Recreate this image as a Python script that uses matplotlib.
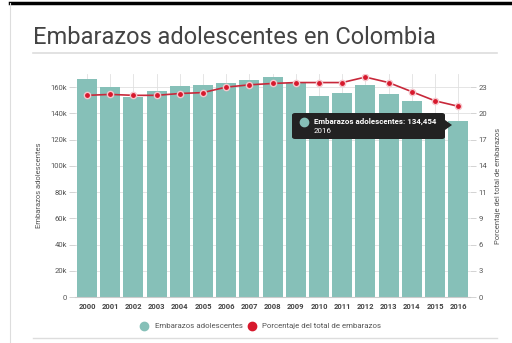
import matplotlib.pyplot as plt
from matplotlib.patches import FancyBboxPatch, Polygon
from matplotlib.lines import Line2D

years = ['2000', '2001', '2002', '2003', '2004', '2005', '2006', '2007', '2008',
         '2009', '2010', '2011', '2012', '2013', '2014', '2015', '2016']
embarazos = [165900, 159800, 152600, 157000, 160800, 161300, 162800, 165300, 167400,
             163300, 153000, 155700, 161800, 154400, 149600, 138000, 134454]
porcentaje = [22.1, 22.2, 22.1, 22.1, 22.3, 22.4, 23.0, 23.25, 23.4,
              23.5, 23.5, 23.5, 24.1, 23.5, 22.5, 21.5, 20.9]
left_ticks = [0, 20000, 40000, 60000, 80000, 100000, 120000, 140000, 160000]
left_labels = ['0', '20k', '40k', '60k', '80k', '100k', '120k', '140k', '160k']
right_labels = ['0', '3', '6', '9', '11', '14', '17', '20', '23']

teal = '#86c0b8'
red = '#d7192d'
txt = '#555555'
plt.rcParams['font.family'] = ['Roboto', 'DejaVu Sans']

fig = plt.figure(figsize=(5.12, 3.43), dpi=100)
fig.patch.set_facecolor('white')

# card frame
fig.add_artist(Line2D([0.02, 1.0], [0.99, 0.99], color='black', lw=2.5))
fig.add_artist(Line2D([0.02, 0.02], [0.0, 0.99], color='#dddddd', lw=0.8))
fig.add_artist(Line2D([33 / 512, 497 / 512], [1 - 53 / 343, 1 - 53 / 343], color='#dddddd', lw=1.2))
fig.add_artist(Line2D([33 / 512, 497 / 512], [1 - 338 / 343, 1 - 338 / 343], color='#dddddd', lw=1.0))

fig.text(33 / 512, 1 - 38 / 343, 'Embarazos adolescentes en Colombia', fontsize=17,
         color='#444444', va='center', ha='left')

ax = fig.add_axes([75.4 / 512, 46 / 343, 394.4 / 512, 223 / 343])
x = list(range(len(years)))
ax.bar(x, embarazos, width=0.86, color=teal, zorder=2)
ax.set_xlim(-0.5, len(years) - 0.5)
ax.set_ylim(0, 170000)
ax.set_yticks(left_ticks)
ax.set_yticklabels(left_labels)
ax.set_xticks(x)
ax.set_xticklabels(years)
ax.tick_params(axis='x', length=0, labelsize=5.5, labelcolor='#444444', pad=4)
ax.tick_params(axis='y', length=4, color='#cccccc', width=0.6, labelsize=5.5, labelcolor=txt, pad=2)
for lab in ax.get_xticklabels():
    lab.set_fontweight('bold')
ax.grid(True, color='#e0e0e0', lw=0.6, zorder=0)
for s in ['top', 'right', 'left']:
    ax.spines[s].set_visible(False)
ax.spines['bottom'].set_color('#cccccc')
ax.set_ylabel('Embarazos adolescentes', fontsize=5.5, color=txt, labelpad=6)

ax2 = ax.twinx()
ax2.set_ylim(0, 23 * 170 / 160)
ax2.set_yticks([23 * i / 8 for i in range(9)])
ax2.set_yticklabels(right_labels)
ax2.tick_params(axis='y', length=4, color='#cccccc', width=0.6, labelsize=5.5, labelcolor=txt, pad=2)
for s in ['top', 'right', 'left', 'bottom']:
    ax2.spines[s].set_visible(False)
ax2.plot(x, porcentaje, color='#c8283a', lw=1.2, zorder=3)
ax2.plot(x, porcentaje, 'o', ms=4.5, color=red, mec='#f5c6cc', mew=1.0, zorder=4)
ax2.set_ylabel('Porcentaje del total de embarazos', fontsize=5.5, color=txt, labelpad=6)

# tooltip
box = FancyBboxPatch((292 / 512, 1 - 139 / 343), 153 / 512, 26 / 343,
                     boxstyle='round,pad=0,rounding_size=0.006', transform=fig.transFigure,
                     facecolor='#222222', edgecolor='none', zorder=10)
fig.add_artist(box)
fig.add_artist(Polygon([[445 / 512, 1 - 120 / 343], [452 / 512, 1 - 125 / 343], [445 / 512, 1 - 130 / 343]],
                       closed=True, transform=fig.transFigure, facecolor='#222222', edgecolor='none', zorder=10))
fig.add_artist(Line2D([304 / 512], [1 - 122 / 343], marker='o', ms=6, color=teal, zorder=11))
fig.text(314 / 512, 1 - 121 / 343, 'Embarazos adolescentes: 134,454', fontsize=5.7,
         color='white', fontweight='bold', va='center', zorder=12)
fig.text(314 / 512, 1 - 131 / 343, '2016', fontsize=5.7, color='white', va='center', zorder=12)

# legend
fig.add_artist(Line2D([144 / 512], [1 - 326 / 343], marker='o', ms=6, color=teal))
fig.text(155 / 512, 1 - 326 / 343, 'Embarazos adolescentes', fontsize=5.7, color=txt, va='center')
fig.add_artist(Line2D([252 / 512], [1 - 326 / 343], marker='o', ms=6, color=red))
fig.text(262 / 512, 1 - 326 / 343, 'Porcentaje del total de embarazos', fontsize=5.7, color=txt, va='center')

fig.savefig('out.png', dpi=100)
